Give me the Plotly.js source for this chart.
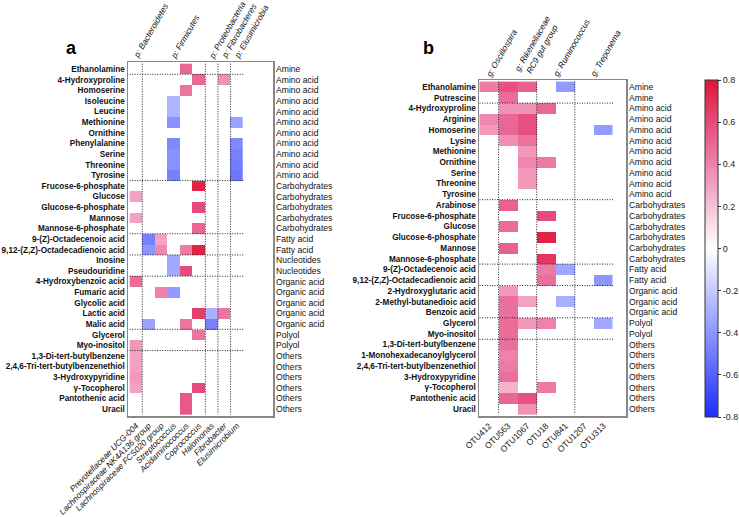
<!DOCTYPE html>
<html>
<head>
<meta charset="utf-8">
<script src="https://cdn.plot.ly/plotly-3.0.1.min.js"></script>
<style>html,body{margin:0;padding:0;background:#fff;}#chart{width:739px;height:517px;}</style>
</head>
<body>
<div id="chart"></div>
<script>
// ---------- Panel a data ----------
const aRows = ['Ethanolamine','4-Hydroxyproline','Homoserine','Isoleucine','Leucine','Methionine','Ornithine','Phenylalanine','Serine','Threonine','Tyrosine','Frucose-6-phosphate','Glucose','Glucose-6-phosphate','Mannose','Mannose-6-phosphate','9-(Z)-Octadecenoic acid','9,12-(Z,Z)-Octadecadienoic acid','Inosine','Pseudouridine','4-Hydroxybenzoic acid','Fumaric acid','Glycolic acid','Lactic acid','Malic acid','Glycerol','Myo-inositol','1,3-Di-tert-butylbenzene','2,4,6-Tri-tert-butylbenzenethiol','3-Hydroxypyridine','γ-Tocopherol','Pantothenic acid','Uracil'];
const aClass = ['Amine','Amino acid','Amino acid','Amino acid','Amino acid','Amino acid','Amino acid','Amino acid','Amino acid','Amino acid','Amino acid','Carbohydrates','Carbohydrates','Carbohydrates','Carbohydrates','Carbohydrates','Fatty acid','Fatty acid','Nucleotides','Nucleotides','Organic acid','Organic acid','Organic acid','Organic acid','Organic acid','Polyol','Polyol','Others','Others','Others','Others','Others','Others'];
const aCols = ['Prevotellaceae UCG-004','Lachnospiraceae NK4A136 group','Lachnospiraceae FCS020 group','Streptococcus','Acidaminococcus','Coprococcus','Halomonas','Fibrobacter','Elusimicrobium'];
const aGroups = ['p: Bacteroidetes','p: Firmicutes','p: Proteobacteria','p: Fibrobacteres','p: Elusimicrobia'];
const aGroupSizes = [1,5,1,1,1];
const _ = null;
const aZ = [
  [_,_,_,_,0.5,_,_,_,_],
  [_,_,_,_,_,0.5,_,0.35,_],
  [_,_,_,_,0.45,_,_,_,_],
  [_,_,_,-0.28,_,_,_,_,_],
  [_,_,_,-0.28,_,_,_,_,_],
  [_,_,_,-0.42,_,_,_,_,-0.35],
  [_,_,_,_,_,_,_,_,_],
  [_,_,_,-0.45,_,_,_,_,-0.45],
  [_,_,_,-0.42,_,_,_,_,-0.48],
  [_,_,_,-0.42,_,_,_,_,-0.5],
  [_,_,_,-0.48,_,_,_,_,-0.52],
  [_,_,_,_,_,0.75,_,_,_],
  [0.3,_,_,_,_,_,_,_,_],
  [_,_,_,_,_,0.6,_,_,_],
  [0.3,_,_,_,_,_,_,_,_],
  [_,_,_,_,_,0.5,_,_,_],
  [_,-0.48,0.3,_,_,_,_,_,_],
  [_,-0.4,0.38,_,0.42,0.75,_,_,_],
  [_,_,_,-0.33,_,_,_,_,_],
  [_,_,_,-0.33,0.6,_,_,_,_],
  [0.48,_,_,_,_,_,_,_,_],
  [_,_,0.4,-0.38,_,_,_,_,_],
  [_,_,_,_,_,_,_,_,_],
  [_,_,_,_,_,0.65,-0.3,0.45,_],
  [_,-0.35,_,_,0.45,_,-0.48,_,_],
  [_,_,_,_,_,0.45,_,_,_],
  [0.33,_,_,_,_,_,_,_,_],
  [0.3,_,_,_,_,_,_,_,_],
  [0.3,_,_,_,_,_,_,_,_],
  [0.33,_,_,_,_,_,_,_,_],
  [0.3,_,_,_,_,0.6,_,_,_],
  [_,_,_,_,0.55,_,_,_,_],
  [_,_,_,_,0.55,_,_,_,_]
];

// ---------- Panel b data ----------
const bRows = ['Ethanolamine','Putrescine','4-Hydroxyproline','Arginine','Homoserine','Lysine','Methionine','Ornithine','Serine','Threonine','Tyrosine','Arabinose','Frucose-6-phosphate','Glucose','Glucose-6-phosphate','Mannose','Mannose-6-phosphate','9-(Z)-Octadecenoic acid','9,12-(Z,Z)-Octadecadienoic acid','2-Hydroxyglutaric acid','2-Methyl-butanedioic acid','Benzoic acid','Glycerol','Myo-inositol','1,3-Di-tert-butylbenzene','1-Monohexadecanoylglycerol','2,4,6-Tri-tert-butylbenzenethiol','3-Hydroxypyridine','γ-Tocopherol','Pantothenic acid','Uracil'];
const bClass = ['Amine','Amine','Amino acid','Amino acid','Amino acid','Amino acid','Amino acid','Amino acid','Amino acid','Amino acid','Amino acid','Carbohydrates','Carbohydrates','Carbohydrates','Carbohydrates','Carbohydrates','Carbohydrates','Fatty acid','Fatty acid','Organic acid','Organic acid','Organic acid','Polyol','Polyol','Others','Others','Others','Others','Others','Others','Others'];
const bCols = ['OTU412','OTU563','OTU1067','OTU18','OTU841','OTU1207','OTU313'];
const bGroups = ['g: Oscillospira','g: Rikenellaceae<br>RC9 gut group','g: Ruminococcus','g: Treponema'];
const bGroupSizes = [1,2,2,2];
const bZ = [
  [0.42,0.58,0.52,_,-0.38,_,_],
  [_,0.48,_,_,_,_,_],
  [_,0.35,0.35,0.5,_,_,_],
  [0.38,0.5,0.58,_,_,_,_],
  [0.33,0.5,0.58,_,_,_,-0.38],
  [_,0.36,0.46,_,_,_,_],
  [_,_,0.33,_,_,_,_],
  [_,_,0.38,0.43,_,_,_],
  [_,_,0.33,_,_,_,_],
  [_,_,0.33,_,_,_,_],
  [_,_,_,_,_,_,_],
  [_,0.52,_,_,_,_,_],
  [_,_,_,0.6,_,_,_],
  [_,0.48,_,_,_,_,_],
  [_,_,_,0.75,_,_,_],
  [_,0.52,_,_,_,_,_],
  [_,_,_,0.68,_,_,_],
  [_,_,_,0.43,-0.33,_,_],
  [_,_,_,0.47,_,_,-0.4],
  [_,0.33,_,_,_,_,_],
  [_,0.47,0.3,_,-0.3,_,_],
  [_,0.47,_,_,_,_,_],
  [_,0.48,0.33,0.4,_,_,-0.33],
  [_,0.48,_,_,_,_,_],
  [_,0.47,_,_,_,_,_],
  [_,0.4,_,_,_,_,_],
  [_,0.43,_,_,_,_,_],
  [_,0.47,_,_,_,_,_],
  [_,0.25,_,0.43,_,_,_],
  [_,0.5,0.58,_,_,_,_],
  [_,_,0.35,_,_,_,_]
];
const cbTicks = [0.8,0.6,0.4,0.2,0,-0.2,-0.4,-0.6,-0.8];
const cbTickText = ['0.8','0.6','0.4','0.2','0','-0.2','-0.4','-0.6','-0.8'];

// ---------- Layout helpers ----------
const W = 739, H = 517;
const FONT = 'Liberation Sans, Arial, sans-serif';
const px = v => v / W;
const py = v => 1 - v / H;
const aDom = {x:[px(128), px(273)], y:[py(416), py(62)]};
const bDom = {x:[px(479), px(626)], y:[py(416), py(80)]};

const colorscale = [
  [0, 'rgb(30,45,250)'],
  [0.25, 'rgb(140,150,255)'],
  [0.5, 'rgb(255,255,255)'],
  [0.625, 'rgb(246,194,215)'],
  [0.75, 'rgb(238,130,172)'],
  [0.875, 'rgb(230,75,125)'],
  [1, 'rgb(222,22,52)']
];

const traces = [
  {type:'heatmap', x:aCols, y:aRows, z:aZ, xaxis:'x', yaxis:'y', colorscale, zmin:-0.8, zmax:0.8, showscale:false, hoverongaps:false},
  {type:'heatmap', x:bCols, y:bRows, z:bZ, xaxis:'x2', yaxis:'y2', colorscale, zmin:-0.8, zmax:0.8, showscale:true, hoverongaps:false,
   colorbar:{x:px(705), xanchor:'left', y:py(417), yanchor:'bottom', len:(417-80)/H, lenmode:'fraction', thickness:13, thicknessmode:'pixels',
     xpad:0, ypad:0, outlinewidth:1, outlinecolor:'#333', ticks:'outside', ticklen:3, tickcolor:'#333',
     tickmode:'array', tickvals:cbTicks, ticktext:cbTickText, tickfont:{family:FONT, size:9, color:'#222'}}}
];

function sepShapes(classes, groupSizes, xa, ya, ncols, nrows) {
  const s = [];
  const line = {color:'#222', width:1, dash:'1px,1.5px'};
  for (let i = 0; i < classes.length - 1; i++) {
    if (classes[i] !== classes[i+1]) {
      s.push({type:'line', xref:xa, yref:ya, x0:-0.5, x1:ncols-0.5, y0:i+0.5, y1:i+0.5, line});
    }
  }
  let c = 0;
  for (let g = 0; g < groupSizes.length - 1; g++) {
    c += groupSizes[g];
    s.push({type:'line', xref:xa, yref:ya, x0:c-0.5, x1:c-0.5, y0:-0.5, y1:nrows-0.5, line});
  }
  return s;
}

function classAnns(classes, ya, xpaper) {
  return classes.map((t, i) => ({text:t, xref:'paper', yref:ya, x:xpaper, y:i, xanchor:'left', yanchor:'middle', showarrow:false,
    font:{family:FONT, size:8.6, color:'#111'}}));
}

function groupAnns(groups, sizes, xa, ypaper) {
  const out = []; let c = 0;
  groups.forEach((g, k) => {
    const center = c + (sizes[k] - 1) / 2;
    c += sizes[k];
    out.push({text:g, xref:xa, yref:'paper', x:center, y:ypaper, xanchor:'left', yanchor:'bottom', textangle:-60, showarrow:false,
      xshift:-8, yshift:-1, font:{family:FONT, size:8.4, style:'italic', color:'#111'}});
  });
  return out;
}

const axLine = {showline:true, mirror:true, linecolor:'#888', linewidth:1.5, showgrid:false, zeroline:false, ticks:''};
const layout = {
  width:W, height:H, margin:{l:0, r:0, t:0, b:0}, paper_bgcolor:'#fff', plot_bgcolor:'#fff', showlegend:false,
  xaxis:Object.assign({domain:aDom.x, anchor:'y', type:'category', tickangle:-45, ticklabelstandoff:0, tickfont:{family:FONT, size:8.4, style:'italic', color:'#111'}}, axLine),
  yaxis:Object.assign({domain:aDom.y, anchor:'x', type:'category', autorange:'reversed', tickfont:{family:FONT, size:8.2, weight:'bold', color:'#111'}}, axLine),
  xaxis2:Object.assign({domain:bDom.x, anchor:'y2', type:'category', tickangle:-45, tickfont:{family:FONT, size:8.6, color:'#111'}}, axLine),
  yaxis2:Object.assign({domain:bDom.y, anchor:'x2', type:'category', autorange:'reversed', tickfont:{family:FONT, size:8.2, weight:'bold', color:'#111'}}, axLine),
  shapes: sepShapes(aClass, aGroupSizes, 'x', 'y', aCols.length, aRows.length)
    .concat(sepShapes(bClass, bGroupSizes, 'x2', 'y2', bCols.length, bRows.length)),
  annotations: classAnns(aClass, 'y', px(274))
    .concat(classAnns(bClass, 'y2', px(627)))
    .concat(groupAnns(aGroups, aGroupSizes, 'x', py(62)))
    .concat(groupAnns(bGroups, bGroupSizes, 'x2', py(80)))
    .concat([
      {text:'<b>a</b>', xref:'paper', yref:'paper', x:px(71), y:py(48), xanchor:'center', yanchor:'middle', showarrow:false, font:{family:FONT, size:18, color:'#000'}},
      {text:'<b>b</b>', xref:'paper', yref:'paper', x:px(428), y:py(48), xanchor:'center', yanchor:'middle', showarrow:false, font:{family:FONT, size:18, color:'#000'}}
    ])
};

Plotly.newPlot('chart', traces, layout, {displayModeBar:false, staticPlot:true});
</script>
</body>
</html>
